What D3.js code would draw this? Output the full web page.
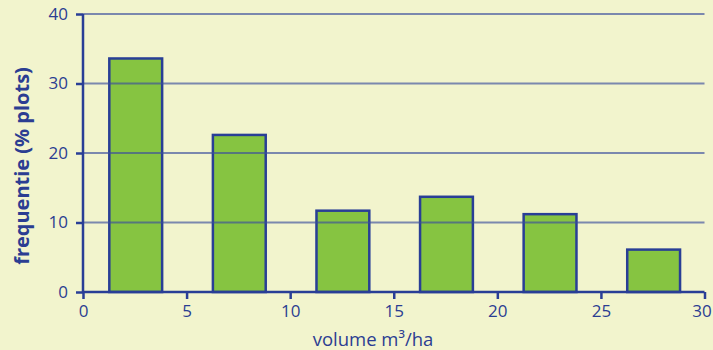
<!DOCTYPE html>
<html>
<head>
<meta charset="utf-8">
<script src="https://cdn.jsdelivr.net/npm/d3@7"></script>
<style>
  body { margin: 0; background: #f2f4cd; }
  svg { display: block; }
  text { font-family: "Open Sans", Lato, sans-serif; fill: #2b3d92; }
</style>
</head>
<body>
<svg width="713" height="350"></svg>
<script>
// bins of 5 m3/ha, bars drawn narrower than the bin
const binStarts = [0, 5, 10, 15, 20, 25]
const frequencies = [33.6, 22.6, 11.7, 13.7, 11.2, 6.1]
const xTickValues = [0, 5, 10, 15, 20, 25, 30]
const yTickValues = [0, 10, 20, 30, 40]

const blue = "#293e96"

const svg = d3.select("svg")
const xScale = d3.scaleLinear().domain([0, 30]).range([83, 704.5])
const yScale = d3.scaleLinear().domain([0, 40]).range([292, 14])

// bars
svg.append("g")
    .selectAll("rect")
    .data(binStarts)
    .enter()
    .append("rect")
    .attr("x", d => xScale(d + 1.27))
    .attr("y", (d, i) => yScale(frequencies[i]))
    .attr("width", xScale(2.55) - xScale(0))
    .attr("height", (d, i) => yScale(0) - yScale(frequencies[i]))
    .attr("fill", "#86c441")
    .attr("stroke", blue)
    .attr("stroke-width", 2.5)

// gridlines on top of bars
svg.append("g")
    .selectAll("line")
    .data(yTickValues.slice(1))
    .enter()
    .append("line")
    .attr("x1", xScale(0))
    .attr("x2", xScale(30))
    .attr("y1", d => yScale(d))
    .attr("y2", d => yScale(d))
    .attr("stroke", "#3b4f9c")
    .attr("stroke-opacity", 0.65)
    .attr("stroke-width", 1.8)

const xAxis = d3.axisBottom(xScale).tickValues(xTickValues).tickSize(7).tickPadding(4)
const yAxis = d3.axisLeft(yScale).tickValues(yTickValues).tickSize(7).tickPadding(8)

const xG = svg.append("g")
    .attr("transform", `translate(0, ${yScale(0)})`)
    .call(xAxis)
const yG = svg.append("g")
    .attr("transform", `translate(${xScale(0)}, 0)`)
    .call(yAxis)

svg.selectAll(".domain")
    .attr("d", function() {
        return this.parentNode === xG.node()
            ? `M${xScale(0)},0H${xScale(30)}`
            : `M0,${yScale(0)}V${yScale(40)}`
    })
    .attr("stroke", blue)
    .attr("stroke-width", 2.5)

svg.selectAll(".tick line")
    .attr("stroke", blue)
    .attr("stroke-width", 2.5)

svg.selectAll(".tick text")
    .style("font-size", "17px")
    .style("fill", "#2b3d92")

xG.selectAll(".tick text").attr("dy", "0.85em")
// keep the last label inside the page
xG.selectAll(".tick text").filter(d => d === 30).attr("x", -3)

// axis titles
svg.append("text")
    .attr("x", 373)
    .attr("y", 345.5)
    .attr("text-anchor", "middle")
    .style("font-size", "18.5px")
    .text("volume m³/ha")

svg.append("text")
    .attr("transform", "translate(29, 166) rotate(-90)")
    .attr("text-anchor", "middle")
    .style("font-size", "20px")
    .style("font-weight", "bold")
    .text("frequentie (% plots)")
</script>
</body>
</html>
